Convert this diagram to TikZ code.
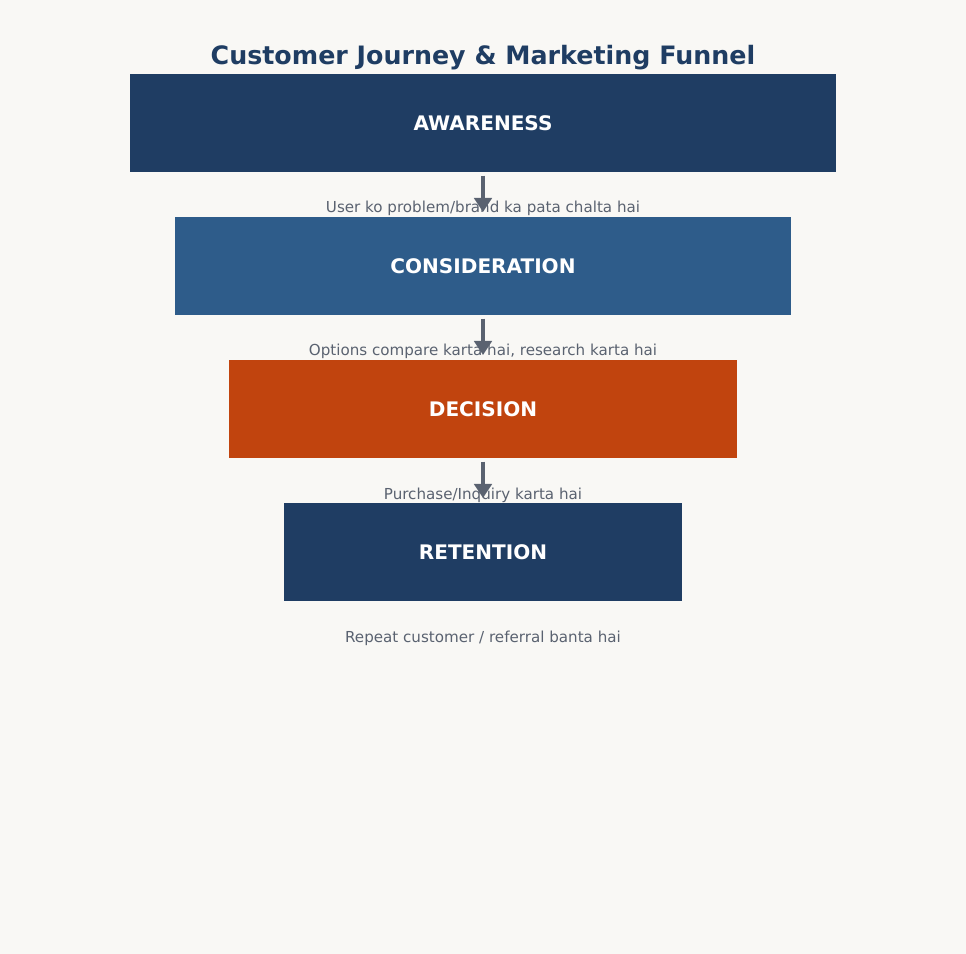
\documentclass[tikz,border=0pt]{standalone}
\usepackage{fontspec}
\setmainfont{DejaVu Sans}
\usepackage{xcolor}
\usetikzlibrary{arrows.meta,positioning}
\definecolor{bg}{HTML}{F9F8F5}
\definecolor{navy}{HTML}{1F3D63}
\definecolor{steel}{HTML}{2E5C8A}
\definecolor{rust}{HTML}{C1440E}
\definecolor{slate}{HTML}{5A6270}
\begin{document}
\begin{tikzpicture}[x=0.01cm,y=-0.01cm,>={Triangle[length=4pt,width=5pt]},
  stage/.style={draw=none, minimum height=0.98cm, text=white, font=\fontsize{5.7}{6}\selectfont\bfseries, inner sep=0pt},
  note/.style={text=slate, font=\fontsize{4.3}{5}\selectfont, inner sep=0pt},
  flow/.style={->, draw=slate, line width=0.9pt}]
  \fill[bg] (0,0) rectangle (966,954);
  \useasboundingbox (0,0) rectangle (966,954);
  \node[text=navy, font=\fontsize{7.2}{8}\selectfont\bfseries] (title) at (483,58) {Customer Journey \& Marketing Funnel};
  % funnel stages
  \node[stage, fill=navy, minimum width=7.06cm]  (aware) at (483,123) {AWARENESS};
  \node[stage, fill=steel, minimum width=6.16cm] (consi) at (483,266) {CONSIDERATION};
  \node[stage, fill=rust, minimum width=5.07cm]  (decis) at (483,409) {DECISION};
  \node[stage, fill=navy, minimum width=3.98cm]  (reten) at (483,552) {RETENTION};
  % notes
  \node[note] (n1) at (483,208) {User ko problem/brand ka pata chalta hai};
  \node[note] (n2) at (483,351) {Options compare karta hai, research karta hai};
  \node[note] (n3) at (483,495) {Purchase/Inquiry karta hai};
  \node[note] (n4) at (483,638) {Repeat customer / referral banta hai};
  \coordinate (e1) at (483,212);
  \coordinate (e2) at (483,355);
  \coordinate (e3) at (483,498);
  \draw[flow] ([yshift=-0.03cm]aware.south) -- (e1);
  \draw[flow] ([yshift=-0.03cm]consi.south) -- (e2);
  \draw[flow] ([yshift=-0.03cm]decis.south) -- (e3);
\end{tikzpicture}
\end{document}
